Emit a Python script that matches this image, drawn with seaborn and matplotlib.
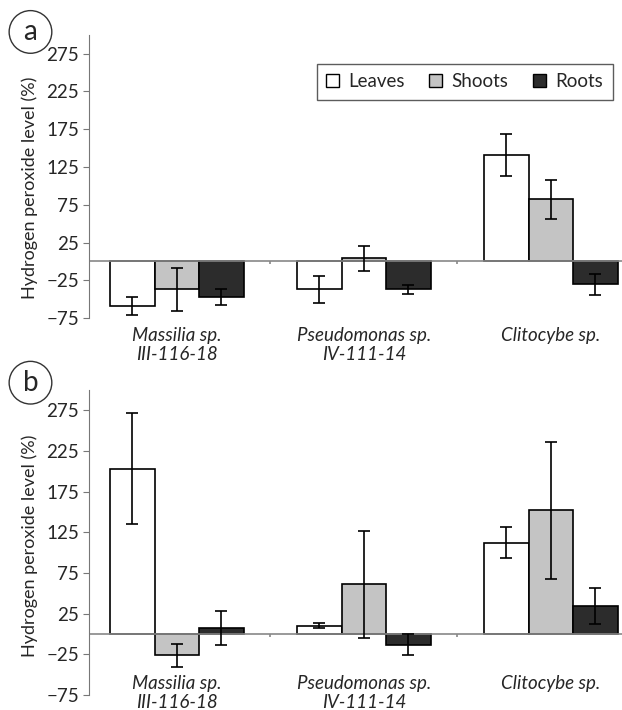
import numpy as np
import pandas as pd
import seaborn as sns
import matplotlib.pyplot as plt
from matplotlib.patches import Patch
import matplotlib.transforms as mtransforms

# dados
strains = ['Massilia sp.\nIII-116-18', 'Pseudomonas sp.\nIV-111-14', 'Clitocybe sp.']
tissues = ['Leaves', 'Shoots', 'Roots']

a_leaves = [-59, -37, 141]
a_shoots = [-37, 4, 82]
a_roots = [-47, -37, -30]
a_leaves_err = [12, 18, 28]
a_shoots_err = [28, 17, 26]
a_roots_err = [11, 6, 14]

b_leaves = [203, 10, 112]
b_shoots = [-26, 61, 152]
b_roots = [7, -13, 34]
b_leaves_err = [68, 3, 19]
b_shoots_err = [14, 66, 84]
b_roots_err = [21, 13, 22]

yticks = [275, 225, 175, 125, 75, 25, -25, -75]
colors = {'Leaves': '#ffffff', 'Shoots': '#c4c4c4', 'Roots': '#2c2c2c'}

sns.set_style('white')
plt.rcParams['font.family'] = ['Lato', 'DejaVu Sans']


def make_df(leaves, shoots, roots, le, se, re):
    rows = []
    for i, s in enumerate(strains):
        rows.append((s, 'Leaves', leaves[i], le[i]))
        rows.append((s, 'Shoots', shoots[i], se[i]))
        rows.append((s, 'Roots', roots[i], re[i]))
    return pd.DataFrame(rows, columns=['strain', 'tissue', 'value', 'err'])


def draw_panel(ax, df, letter, label_y, letter_y, ylab_pos, fig):
    sns.barplot(data=df, x='strain', y='value', hue='tissue', hue_order=tissues,
                order=strains, palette=colors, errorbar=None, width=0.714,
                edgecolor='black', linewidth=1.2, legend=False, ax=ax)
    # barras de erro
    for cont, t in zip(ax.containers, tissues):
        sub = df[df.tissue == t].set_index('strain').loc[strains]
        xs = [b.get_x() + b.get_width() / 2 for b in cont]
        ax.errorbar(xs, sub['value'], yerr=sub['err'], fmt='none', ecolor='black',
                    elinewidth=1.2, capsize=4, capthick=1.2, zorder=5)
    ax.set_xlim(-0.47, 2.38)
    ax.set_ylim(-75, 300)
    ax.set_yticks(yticks)
    ax.tick_params(axis='y', direction='out', length=4, color='#777777',
                   labelsize=13.5, left=True, pad=3)
    ax.set_ylabel('Hydrogen peroxide level (%)', fontsize=13, labelpad=4)
    ax.yaxis.set_label_coords(-0.095, ylab_pos)
    ax.set_xlabel('')
    ax.set_xticks([])
    for sp in ['top', 'right', 'bottom']:
        ax.spines[sp].set_visible(False)
    ax.spines['left'].set_color('#777777')
    ax.axhline(0, color='#888888', lw=1.2, zorder=1)
    ax.vlines([0.5, 1.5], -4, 0, color='#888888', lw=1.2)
    trans = mtransforms.blended_transform_factory(ax.transData, ax.transAxes)
    for i, s in enumerate(strains):
        ax.text(i, label_y, s, transform=trans, ha='center', va='top',
                fontsize=13.5, style='italic', linespacing=1.15)
    fig.text(0.049, letter_y, letter, fontsize=20,
             ha='center', va='center',
             bbox=dict(boxstyle='circle,pad=0.3', fc='white', ec='#333333', lw=1))


fig = plt.figure(figsize=(6.22, 7.1), dpi=100)
ax_a = fig.add_axes([0.143, 0.552, 0.857, 0.399])
ax_b = fig.add_axes([0.143, 0.021, 0.857, 0.430])

df_a = make_df(a_leaves, a_shoots, a_roots, a_leaves_err, a_shoots_err, a_roots_err)
df_b = make_df(b_leaves, b_shoots, b_roots, b_leaves_err, b_shoots_err, b_roots_err)

draw_panel(ax_a, df_a, 'a', -0.03, 0.955, 0.46, fig)
draw_panel(ax_b, df_b, 'b', 0.065, 0.461, 0.49, fig)

handles = [Patch(facecolor=colors[t], edgecolor='black', lw=1) for t in tissues]
ax_a.legend(handles, tissues, ncol=3, loc='upper right',
            bbox_to_anchor=(1.0, 0.923), bbox_transform=fig.transFigure,
            frameon=True, fancybox=False, edgecolor='#333333', fontsize=13.5,
            handlelength=0.7, handleheight=0.7, handletextpad=0.5,
            columnspacing=1.3, borderpad=0.5)

fig.savefig('out.png', dpi=100)
